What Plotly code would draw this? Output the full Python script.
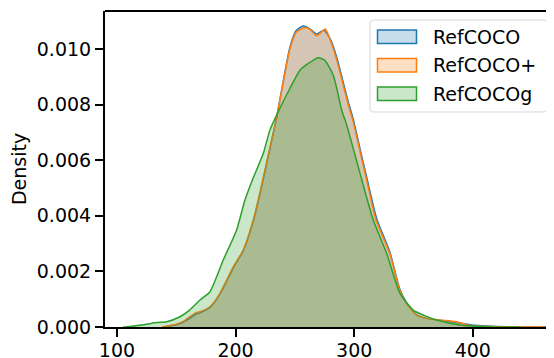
import plotly.graph_objects as go

# Series (length value -> density)
refcoco_x = [140, 150, 156, 161.5, 166, 170, 178.4, 186.8, 198.1, 206.5, 214.9, 219.1, 224.8, 230.4,
             234.7, 240.2, 245.9, 251, 257.1, 263, 268.4, 274.5, 280, 285.2, 290.8, 295, 299.2,
             305, 310.5, 319, 330.2, 338.6, 344.3, 352.7, 361.1, 372.3, 386.4, 397.6, 405, 420, 440, 465]
refcoco_y = [0, 0.00008, 0.00018, 0.00032, 0.00045, 0.00051, 0.0007, 0.00118, 0.00213, 0.00275,
             0.0038, 0.00452, 0.0056, 0.0067, 0.00755, 0.00885, 0.01008, 0.01066, 0.01083, 0.01072,
             0.01054, 0.01068, 0.01035, 0.00972, 0.0088, 0.0081, 0.00748, 0.0064, 0.0054, 0.0039,
             0.00268, 0.00135, 0.00087, 0.00044, 0.00031, 0.00024, 0.00016, 0.00008, 0.00005,
             0.00002, 0.000006, 0]

refcocop_x = [138, 150, 156, 161.5, 166, 170, 178.4, 186.8, 198.1, 206.5, 214.9, 219.1, 224.8, 230.4,
              234.7, 240.2, 245.9, 251, 258.5, 263, 268.4, 275.7, 280, 285.2, 290.8, 295, 299.2,
              305, 310.5, 318.4, 330.2, 338.6, 344.3, 352.7, 361.1, 372.3, 386.4, 397.6, 405, 420, 440, 460]
refcocop_y = [0, 0.0001, 0.0002, 0.00037, 0.0005, 0.00055, 0.00073, 0.00121, 0.00217, 0.00277,
              0.00385, 0.00457, 0.00565, 0.00673, 0.00756, 0.00882, 0.01002, 0.0106, 0.01078, 0.0107,
              0.01048, 0.01072, 0.0103, 0.00962, 0.0087, 0.008, 0.00738, 0.0063, 0.00529, 0.00385,
              0.00262, 0.0013, 0.00083, 0.00043, 0.00031, 0.00025, 0.00019, 0.00004, 0.00003,
              0.00001, 0.000003, 0]

refcocog_x = [105, 111, 125, 133.5, 141.9, 153.1, 161, 170, 178.4, 189.6, 200.9, 207.9, 213.6, 223.4,
              229, 236, 245.9, 254.3, 262, 269.7, 275, 282.4, 289.5, 293.7, 300, 305, 316.1, 327.4,
              338.6, 349.8, 360, 369.6, 389.2, 410, 440]
refcocog_y = [0, 0.00002, 0.0001, 0.00016, 0.00019, 0.00037, 0.0006, 0.00097, 0.00127, 0.00241,
              0.00349, 0.00457, 0.00523, 0.00625, 0.00709, 0.00775, 0.00859, 0.00924, 0.0095, 0.00969,
              0.0096, 0.00906, 0.0078, 0.00727, 0.0063, 0.00552, 0.00385, 0.00265, 0.00121, 0.00061,
              0.0004, 0.00025, 0.00007, 0.00001, 0]

names = ["RefCOCO", "RefCOCO+", "RefCOCOg"]
xs = [refcoco_x, refcocop_x, refcocog_x]
ys = [refcoco_y, refcocop_y, refcocog_y]
line_colors = ["#1f77b4", "#ff7f0e", "#2ca02c"]
fill_colors = ["rgba(31,119,180,0.25)", "rgba(255,127,14,0.25)", "rgba(44,160,44,0.25)"]

x_ticks = [100, 200, 300, 400]
y_ticks = [0.000, 0.002, 0.004, 0.006, 0.008, 0.010]

# page body has an 8px margin, so the figure is offset by 8px
OFF = 8
W, H = 554 - OFF, 358 - OFF
# target plot area in screen pixels: x 105..554, y 11..327
L, R, T, B = 105 - OFF, 0, 11 - OFF, 358 - 327
PW, PH = W - L - R, H - T - B


def px(xs_):
    # screen pixel x -> paper
    return (xs_ - OFF - L) / PW


def py(ys_):
    # screen pixel y -> paper
    return (H - B - (ys_ - OFF)) / PH


fig = go.Figure()
for n, x, y, lc, fc in zip(names, xs, ys, line_colors, fill_colors):
    fig.add_trace(go.Scatter(x=x, y=y, name=n, mode="lines", fill="tozeroy", showlegend=False,
                             fillcolor=fc, line=dict(color=lc, width=1.5, shape="spline", smoothing=0.6)))

font = dict(family="DejaVu Sans", size=19, color="black")

bx0, bx1, by0, by1 = 370, 547, 20, 112
rad = 4
path = (f"M {bx0+rad},{by0} L {bx1-rad},{by0} Q {bx1},{by0} {bx1},{by0+rad} "
        f"L {bx1},{by1-rad} Q {bx1},{by1} {bx1-rad},{by1} L {bx0+rad},{by1} "
        f"Q {bx0},{by1} {bx0},{by1-rad} L {bx0},{by0+rad} Q {bx0},{by0} {bx0+rad},{by0} Z")


def conv_path(p):
    out = []
    for t in p.split():
        if "," in t:
            a, b = t.split(",")
            out.append(f"{px(float(a)):.5f},{py(float(b)):.5f}")
        else:
            out.append(t)
    return " ".join(out)


shapes = [dict(type="path", xref="paper", yref="paper", path=conv_path(path),
               fillcolor="rgba(255,255,255,0.8)", line=dict(color="#d6d6d6", width=1), layer="above")]
annotations = []
sw_tops = [30, 58.5, 87]
for n, lc, fc, top in zip(names, line_colors, fill_colors, sw_tops):
    shapes.append(dict(type="rect", xref="paper", yref="paper",
                       x0=px(377.5), x1=px(416.5), y0=py(top), y1=py(top + 13.5),
                       fillcolor=fc, line=dict(color=lc, width=1.5), layer="above"))
    annotations.append(dict(xref="paper", yref="paper", x=px(431), y=py(top + 6.75),
                            xanchor="left", yanchor="middle", text=n, showarrow=False, font=font))

# top spine
shapes.append(dict(type="line", xref="paper", yref="paper", x0=0, x1=1, y0=1, y1=1,
                   line=dict(color="black", width=2)))

fig.update_layout(
    width=W, height=H,
    margin=dict(l=L, r=R, t=T, b=B),
    paper_bgcolor="white", plot_bgcolor="white",
    font=font,
    showlegend=False,
    shapes=shapes,
    annotations=annotations,
    xaxis=dict(range=[89.9, 468.5], tickvals=x_ticks, showgrid=False, zeroline=False, automargin=False,
               showline=True, linecolor="black", linewidth=2, mirror=False,
               ticks="outside", ticklen=8, tickwidth=2, tickcolor="black", tickfont=font,
               ticklabelstandoff=-3),
    yaxis=dict(range=[0, 0.01137], tickvals=y_ticks, tickformat=".3f", showgrid=False, zeroline=False,
               automargin=False,
               showline=True, linecolor="black", linewidth=2,
               ticks="outside", ticklen=8, tickwidth=2, tickcolor="black", tickfont=font,
               title=dict(text="Density", font=font, standoff=6)),
)

fig.write_html("out.html")
